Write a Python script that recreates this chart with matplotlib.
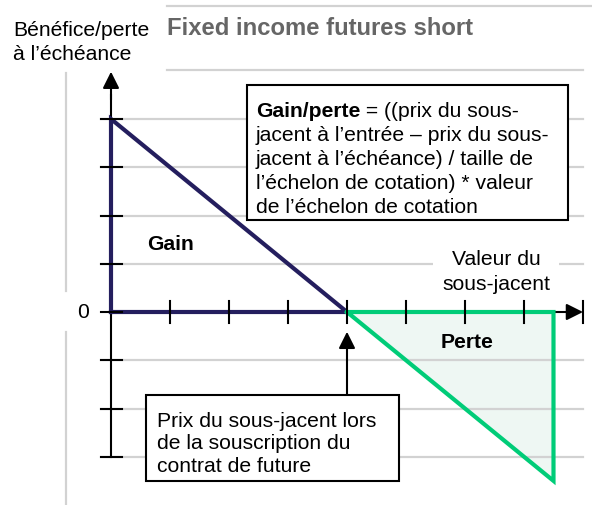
import matplotlib
matplotlib.use('Agg')
import matplotlib.pyplot as plt
from matplotlib.patches import Rectangle, Polygon

plt.rcParams['font.family'] = ['Liberation Sans', 'DejaVu Sans']

# payoff of a short futures position: gain = entry price - price at expiry
entry_price = 4
gain_prices = [0, 4]
gain_values = [4, 0]
loss_prices = [4, 7.5]
loss_values = [0, -3.5]
x_ticks = [1, 2, 3, 4, 5, 6, 7, 8]
y_ticks = [-3, -2, -1, 0, 1, 2, 3, 4]

title = 'Fixed income futures short'
y_label = ['Bénéfice/perte', 'à l’échéance']
x_label = ['Valeur du', 'sous-jacent']
formula_bold = 'Gain/perte'
formula_lines = [' = ((prix du sous-',
                 'jacent à l’entrée – prix du sous-',
                 'jacent à l’échéance) / taille de',
                 'l’échelon de cotation) * valeur',
                 'de l’échelon de cotation']
entry_lines = ['Prix du sous-jacent lors',
               'de la souscription du',
               'contrat de future']

W, H = 592, 506
NAVY = '#241E5E'
GREEN = '#00CC78'
FILL = '#EEF7F3'
GRID = '#D2D2D2'
FS = 15.2

fig = plt.figure(figsize=(W / 100, H / 100), dpi=100)
ax = fig.add_axes([0, 0, 1, 1])
# origin at pixel (111, 313), 59 px per unit on x, 48.25 px per unit on y
ax.set_xlim(-111 / 59, (W - 111) / 59)
ax.set_ylim(-(H - 313) / 48.25, 313 / 48.25)
ax.axis('off')


def P(x, y):
    return x / W, 1 - y / H


tf = fig.transFigure

# header rules and left rule
ax.plot([167 / W, 1], [1 - 7 / H] * 2, color=GRID, lw=1.6, transform=tf)
ax.plot([167 / W, 583 / W], [1 - 71 / H] * 2, color=GRID, lw=1.6, transform=tf)
ax.plot([66 / W] * 2, [1 - 74 / H, 1 - 292 / H], color=GRID, lw=1.6, transform=tf)
ax.plot([66 / W] * 2, [1 - 333 / H, 0], color=GRID, lw=1.6, transform=tf)

# loss area
loss_poly = list(zip(loss_prices, loss_values)) + [(loss_prices[-1], 0)]
ax.add_patch(Polygon(loss_poly, closed=True, fc=FILL, ec='none', zorder=1))

# grid
for gy in y_ticks:
    if gy != 0:
        ax.plot([-0.17, x_ticks[-1]], [gy, gy], color=GRID, lw=1.6, zorder=2)

# axes with arrows
ax.plot([0, 0], [y_ticks[0], 4.5], color='black', lw=1.5, zorder=3)
ax.annotate('', xy=(0, 4.98), xytext=(0, 4.4),
            arrowprops=dict(arrowstyle='-|>,head_length=0.4,head_width=0.2',
                            mutation_scale=25, lw=1.5, color='black',
                            shrinkA=0, shrinkB=0), zorder=3)
ax.annotate('', xy=(x_ticks[-1], 0), xytext=(0, 0),
            arrowprops=dict(arrowstyle='-|>,head_length=0.4,head_width=0.2',
                            mutation_scale=25, lw=1.5, color='black',
                            shrinkA=0, shrinkB=0), zorder=3)

# payoff lines
gain_x = [gain_prices[0]] + gain_prices + [gain_prices[0]]
gain_y = [0] + gain_values + [0]
ax.plot(gain_x, gain_y, color=NAVY, lw=3, solid_joinstyle='miter', zorder=4)
loss_x = loss_prices + [loss_prices[-1], loss_prices[0]]
loss_y = loss_values + [0, 0]
ax.plot(loss_x, loss_y, color=GREEN, lw=3, solid_joinstyle='miter', zorder=4)

# ticks
for x in x_ticks:
    ax.plot([x, x], [-0.22, 0.22], color='black', lw=1.5, zorder=5)
for y in y_ticks:
    ax.plot([-0.17, 0.19], [y, y], color='black', lw=1.5, zorder=5)

# texts
ax.text(*P(167, 35), title, transform=tf, fontsize=17.2, fontweight='bold',
        color='#666666', va='baseline')
ax.text(*P(13, 36), y_label[0], transform=tf, fontsize=FS, va='baseline')
ax.text(*P(13, 60), y_label[1], transform=tf, fontsize=FS, va='baseline')
ax.text(*P(83, 313), '0', transform=tf, fontsize=FS, ha='center', va='center')
ax.text(*P(147, 250), 'Gain', transform=tf, fontsize=FS, fontweight='bold',
        va='baseline')
ax.text(*P(467, 348), 'Perte', transform=tf, fontsize=FS, fontweight='bold',
        ha='center', va='baseline')

ax.add_patch(Rectangle(P(433, 297), 126 / W, 52 / H, transform=tf,
                       fc='white', ec='none', zorder=6))
ax.text(*P(496, 265), x_label[0], transform=tf, fontsize=FS, ha='center',
        va='baseline', zorder=7)
ax.text(*P(496, 290), x_label[1], transform=tf, fontsize=FS, ha='center',
        va='baseline', zorder=7)

# formula box
ax.add_patch(Rectangle(P(247, 221), 321 / W, 135 / H, transform=tf,
                       fc='white', ec='black', lw=1.5, zorder=6))
tb = ax.text(*P(256, 117), formula_bold, transform=tf, fontsize=FS,
             fontweight='bold', va='baseline', zorder=7)
fig.canvas.draw()
bb = tb.get_window_extent()
ax.text(bb.x1 / W, 1 - 117 / H, formula_lines[0], transform=tf, fontsize=FS,
        va='baseline', zorder=7)
for i, line in enumerate(formula_lines[1:]):
    ax.text(*P(256, 141 + 24 * i), line, transform=tf, fontsize=FS,
            va='baseline', zorder=7)

# entry price box and arrow
ax.add_patch(Rectangle(P(146, 482), 253 / W, 86 / H, transform=tf,
                       fc='white', ec='black', lw=1.5, zorder=6))
for i, line in enumerate(entry_lines):
    ax.text(*P(157, 427 + 22.5 * i), line, transform=tf, fontsize=FS,
            va='baseline', zorder=7)
ax.annotate('', xy=(entry_price, -0.41), xytext=(entry_price, -1.7),
            arrowprops=dict(arrowstyle='-|>,head_length=0.4,head_width=0.2',
                            mutation_scale=25, lw=1.5, color='black',
                            shrinkA=0, shrinkB=0), zorder=5)

fig.savefig('out.png', dpi=100)
